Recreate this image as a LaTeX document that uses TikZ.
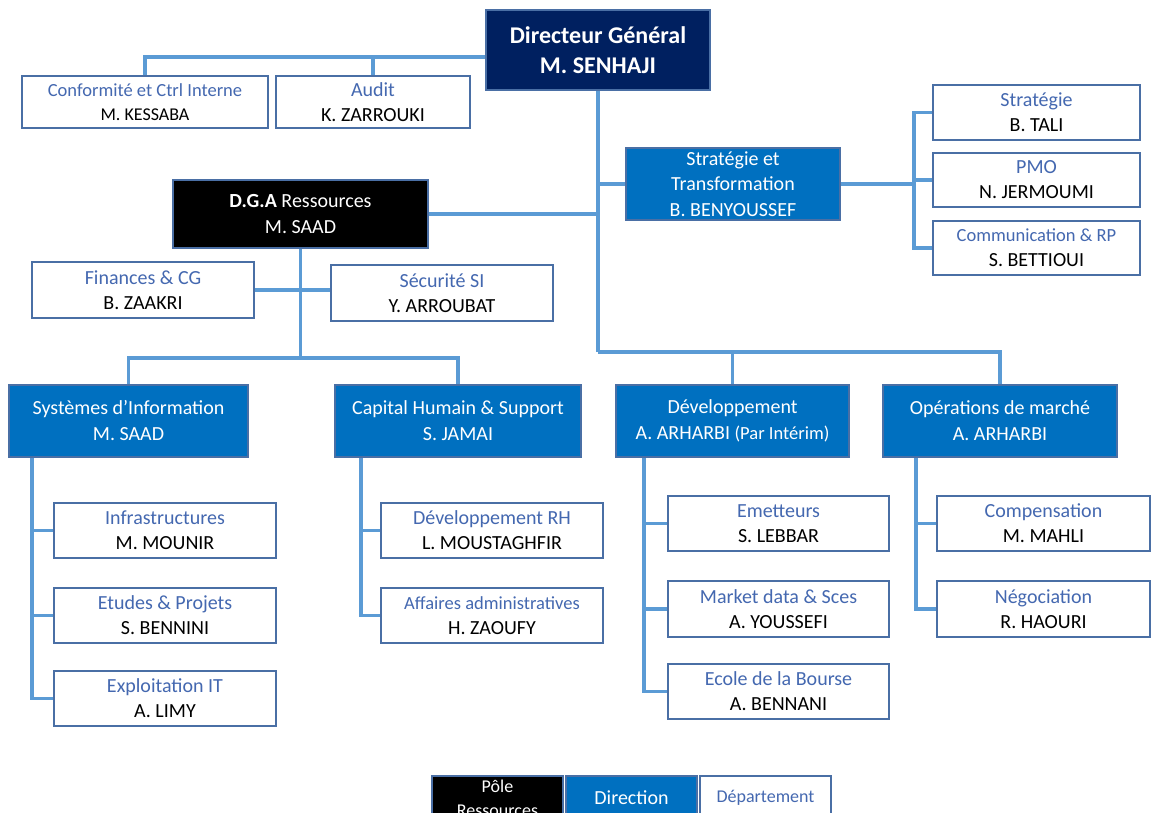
\documentclass[tikz,border=0pt]{standalone}
\usepackage{fontspec}
\setmainfont{Carlito}
\definecolor{navy}{HTML}{002060}
\definecolor{dirblue}{HTML}{0070C0}
\definecolor{linkblue}{HTML}{5B9BD5}
\definecolor{boxline}{HTML}{4A6FA5}
\definecolor{titleblue}{HTML}{4468B0}
\tikzset{
  conn/.style={draw=linkblue, line width=3.2pt},
  basebox/.style={rectangle, inner sep=0pt, align=center, line width=1.5pt, font=\fontsize{20}{25}\selectfont},
  dept/.style={basebox, draw=boxline, fill=white},
  dir/.style={basebox, draw=boxline, fill=dirblue, text=white, font=\fontsize{20}{26}\selectfont},
  pole/.style={basebox, draw=boxline, fill=black, text=white, font=\fontsize{20}{26}\selectfont},
  dg/.style={basebox, draw=boxline, fill=navy, text=white, font=\bfseries\fontsize{24}{30}\selectfont},
}
\newcommand{\dtitle}[1]{\textcolor{titleblue}{#1}}
\newcommand{\smtitle}[1]{\textcolor{titleblue}{\fontsize{18.5}{24}\selectfont #1}}
\begin{document}
\begin{tikzpicture}[x=1pt,y=-1pt]
\useasboundingbox (0,0) rectangle (1152,812);
% nodes
\node[dg, minimum width=224pt, minimum height=80pt] (DG) at (598,50) {Directeur Général\\M. SENHAJI};
\node[dept, minimum width=246pt, minimum height=52pt, font=\fontsize{18.5}{24}\selectfont] (Conf) at (145,102) {\dtitle{Conformité et Ctrl Interne}\\{\fontsize{18}{22}\selectfont M. KESSABA}};
\node[dept, minimum width=194pt, minimum height=52pt] (Audit) at (373,102) {\dtitle{Audit}\\K. ZARROUKI};
\node[dir, minimum width=214pt, minimum height=72pt, font=\fontsize{20}{25.5}\selectfont] (ST) at (733,184) {Stratégie et\\Transformation\\B. BENYOUSSEF};
\node[dept, minimum width=207pt, minimum height=55pt] (Strat) at (1036.5,112.5) {\dtitle{Stratégie}\\B. TALI};
\node[dept, minimum width=207pt, minimum height=54pt] (PMO) at (1036.5,180) {\dtitle{PMO}\\N. JERMOUMI};
\node[dept, minimum width=207pt, minimum height=54pt] (Comm) at (1036.5,248) {\smtitle{Communication \& RP}\\S. BETTIOUI};
\node[pole, minimum width=255pt, minimum height=68pt] (DGA) at (300.5,214) {\textbf{D.G.A} Ressources\\M. SAAD};
\node[dept, minimum width=222pt, minimum height=56pt] (Fin) at (143,290) {\dtitle{Finances \& CG}\\B. ZAAKRI};
\node[dept, minimum width=222pt, minimum height=56pt] (Sec) at (442,293) {\dtitle{Sécurité SI}\\Y. ARROUBAT};
\node[dir, minimum width=239pt, minimum height=72pt] (SI) at (128.5,421) {Systèmes d’Information\\M. SAAD};
\node[dir, minimum width=246pt, minimum height=72pt] (CH) at (458,421) {Capital Humain \& Support\\S. JAMAI};
\node[dir, minimum width=233pt, minimum height=72pt] (Dev) at (732.5,421) {Développement\\A. ARHARBI {\fontsize{18.5}{22}\selectfont(Par Intérim)}};
\node[dir, minimum width=234pt, minimum height=72pt] (Ops) at (1000,421) {Opérations de marché\\A. ARHARBI};
\node[dept, minimum width=222pt, minimum height=55pt] (Infra) at (165,530.5) {\dtitle{Infrastructures}\\M. MOUNIR};
\node[dept, minimum width=222pt, minimum height=55pt] (Etudes) at (165,615.5) {\dtitle{Etudes \& Projets}\\S. BENNINI};
\node[dept, minimum width=222pt, minimum height=55pt] (Expl) at (165,698.5) {\dtitle{Exploitation IT}\\A. LIMY};
\node[dept, minimum width=222pt, minimum height=55pt] (DRH) at (492,530.5) {\dtitle{Développement RH}\\L. MOUSTAGHFIR};
\node[dept, minimum width=222pt, minimum height=55pt] (Aff) at (492,615.5) {\smtitle{Affaires administratives}\\H. ZAOUFY};
\node[dept, minimum width=221pt, minimum height=55pt] (Emet) at (778.5,523.5) {\dtitle{Emetteurs}\\S. LEBBAR};
\node[dept, minimum width=221pt, minimum height=56pt] (Market) at (778.5,609) {\dtitle{Market data \& Sces}\\A. YOUSSEFI};
\node[dept, minimum width=221pt, minimum height=55pt] (Ecole) at (778.5,691.5) {\dtitle{Ecole de la Bourse}\\A. BENNANI};
\node[dept, minimum width=213pt, minimum height=55pt] (Comp) at (1043.5,523.5) {\dtitle{Compensation}\\M. MAHLI};
\node[dept, minimum width=213pt, minimum height=56pt] (Nego) at (1043.5,609) {\dtitle{Négociation}\\R. HAOURI};
% legend
\node[pole, minimum width=131pt, minimum height=44pt, font=\fontsize{18}{24}\selectfont] (LPole) at (497.5,798) {Pôle\\Ressources};
\node[dir, minimum width=131pt, minimum height=44pt, font=\fontsize{20}{24}\selectfont] (LDir) at (631.5,798) {Direction};
\node[dept, minimum width=131pt, minimum height=44pt, font=\fontsize{18}{24}\selectfont] (LDep) at (765.5,798) {\dtitle{Département}};
% helper coordinates
\coordinate (yA) at (0,57);
\coordinate (yB) at (0,352);
\coordinate (yC) at (0,358);
\coordinate (xR) at (914,0);
\coordinate (xSI) at (32,0);
\coordinate (xCH) at (361,0);
\coordinate (xDev) at (644,0);
\coordinate (xOps) at (916,0);
% connectors
\draw[conn] (DG.west |- yA) -| (Conf.north);
\draw[conn] (Audit.north) -- (Audit.north |- yA);
\draw[conn] (DG.south) -- (DG.south |- yB);
\draw[conn] (DGA.east) -- (DGA.east -| DG.south);
\draw[conn] (ST.west) -- (ST.west -| DG.south);
\draw[conn] (DG.south |- yB) -| (Ops.north);
\draw[conn] (Dev.north) -- (Dev.north |- yB);
\draw[conn] (ST.east) -- (ST.east -| xR);
\draw[conn] (Strat.west) -- (Strat.west -| xR) -- (Comm.west -| xR) -- (Comm.west);
\draw[conn] (PMO.west) -- (PMO.west -| xR);
\draw[conn] (DGA.south) -- (DGA.south |- yC);
\draw[conn] (Fin.east) -- (Fin.east -| Sec.west);
\draw[conn] (SI.north) -- (SI.north |- yC) -| (CH.north);
\draw[conn] (SI.south -| xSI) |- (Expl.west);
\draw[conn] (Infra.west) -- (Infra.west -| xSI);
\draw[conn] (Etudes.west) -- (Etudes.west -| xSI);
\draw[conn] (CH.south -| xCH) |- (Aff.west);
\draw[conn] (DRH.west) -- (DRH.west -| xCH);
\draw[conn] (Dev.south -| xDev) |- (Ecole.west);
\draw[conn] (Emet.west) -- (Emet.west -| xDev);
\draw[conn] (Market.west) -- (Market.west -| xDev);
\draw[conn] (Ops.south -| xOps) |- (Nego.west);
\draw[conn] (Comp.west) -- (Comp.west -| xOps);
\end{tikzpicture}
\end{document}
